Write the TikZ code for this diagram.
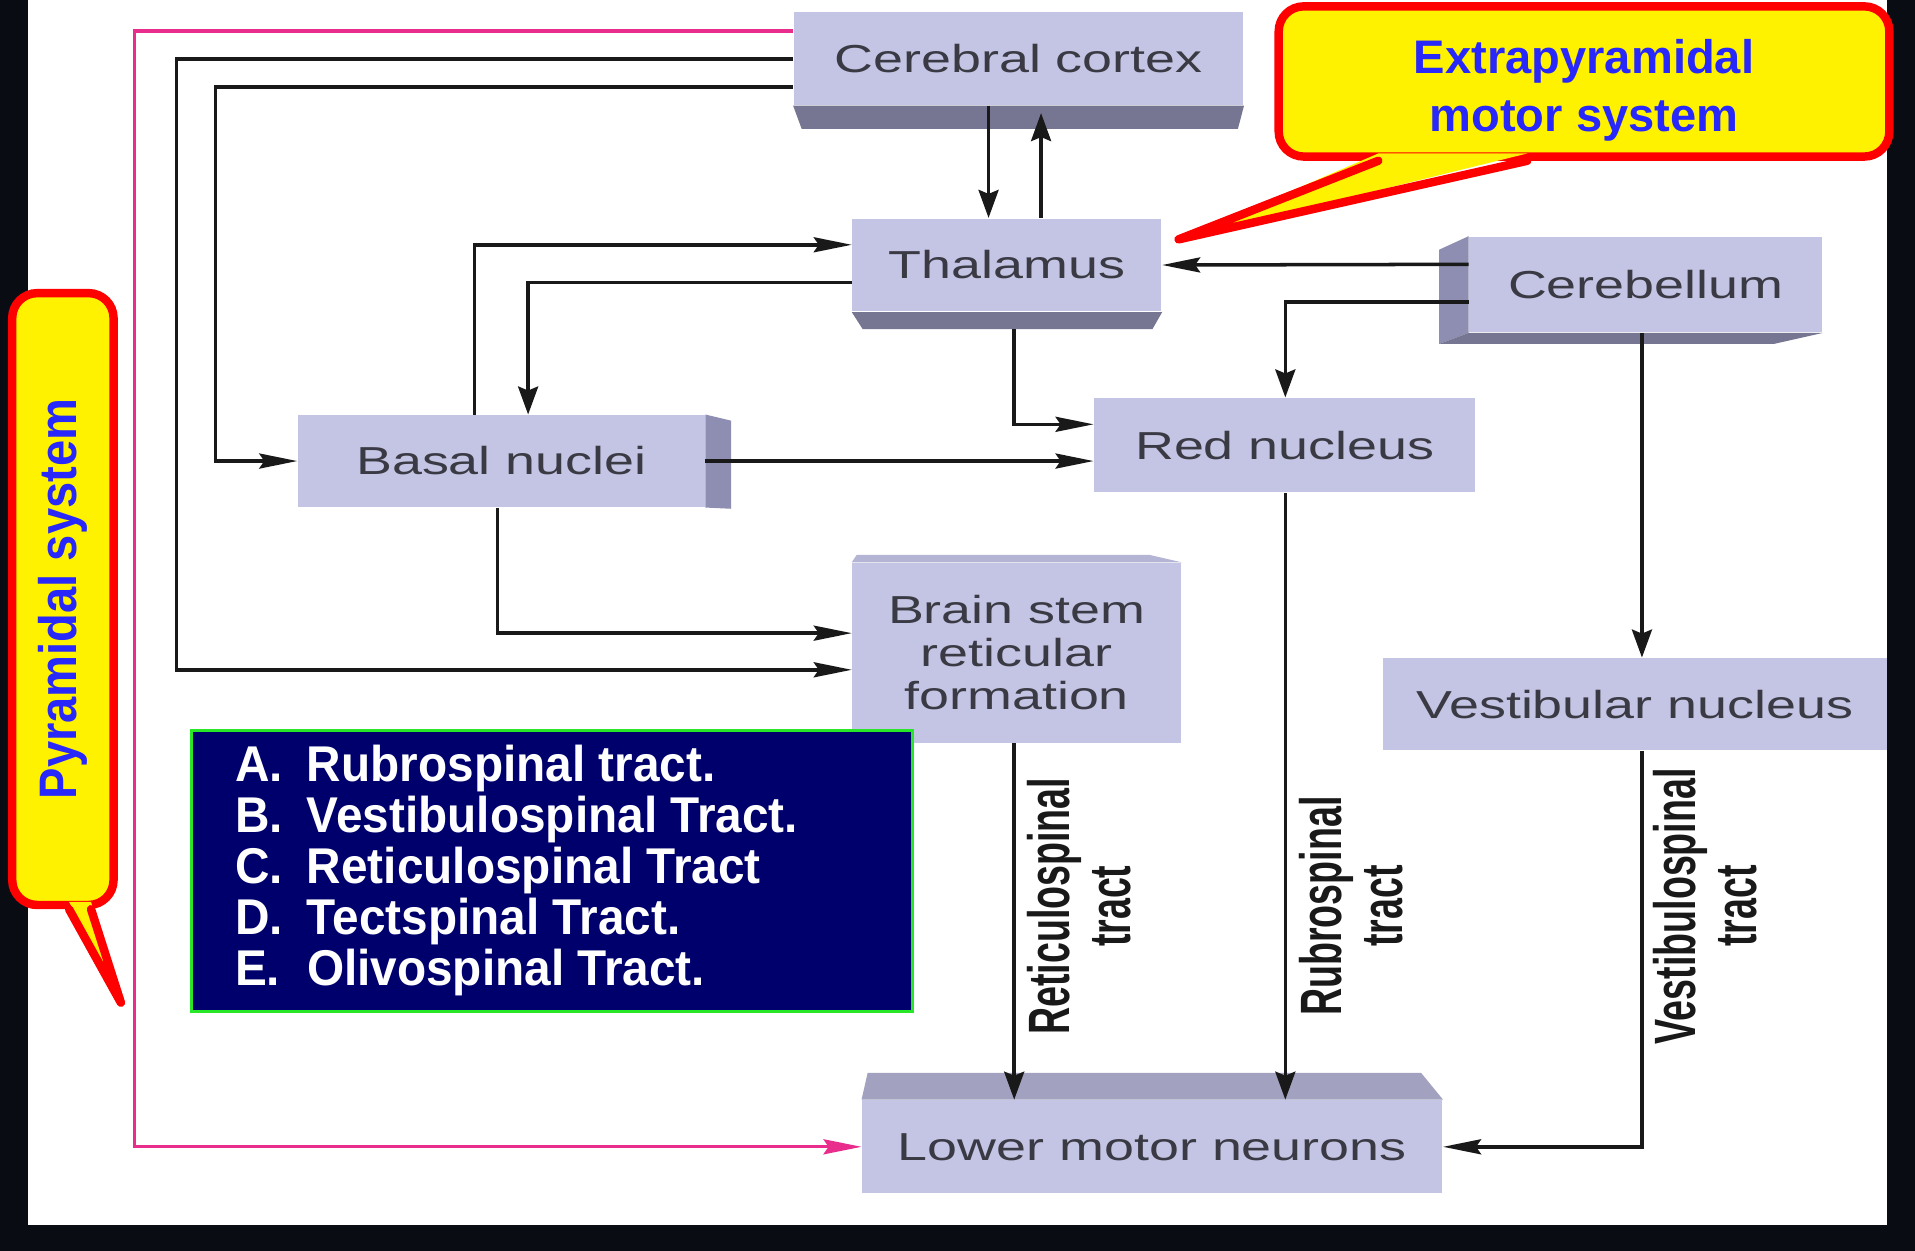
\documentclass[tikz,border=0pt]{standalone}
\usepackage{fontspec}
\setmainfont{Liberation Sans}
\newfontfamily\boxfont[FakeStretch=1.38]{Liberation Sans}
\newfontfamily\quizfont[FakeStretch=0.95]{Liberation Sans}
\usepackage{graphicx}
\usetikzlibrary{positioning,calc,arrows.meta}

\definecolor{frameblack}{RGB}{10,12,20}
\definecolor{faceblue}{RGB}{196,196,228}
\definecolor{sideblue}{RGB}{142,142,178}
\definecolor{bottomblue}{RGB}{118,118,146}
\definecolor{topblue}{RGB}{180,180,212}
\definecolor{lmntop}{RGB}{162,162,192}
\definecolor{boxtext}{RGB}{58,58,68}
\definecolor{pyrpink}{RGB}{232,45,140}
\definecolor{calloutblue}{RGB}{40,40,250}
\definecolor{quiznavy}{RGB}{0,0,108}
\definecolor{quizgreen}{RGB}{40,230,40}

\newcommand{\upx}{0.12213mm}

\begin{document}
\begin{tikzpicture}[x=0.12213mm, y=-0.12213mm,
    face/.style={rectangle, fill=faceblue, inner sep=0pt, text=boxtext, align=center, font=\boxfont\fontsize{11.1}{12.3}\selectfont},
    conn/.style={draw=black!90, line width=1pt},
    harr/.style={conn, -{Stealth[length=3.8mm, width=1.5mm, inset=0.5mm]}},
    varr/.style={conn, -{Stealth[length=2.8mm, width=2mm, inset=0.4mm]}},
    pinkarr/.style={draw=pyrpink, line width=0.9pt, -{Stealth[length=3.8mm, width=1.5mm, inset=0.5mm]}},
    lbl/.style={rotate=90, inner sep=0pt, text=black!90, font=\bfseries\fontsize{10.7}{11.2}\selectfont},
    quiz/.style={rectangle, fill=quiznavy, draw=quizgreen, line width=0.8pt},
    callbox/.style={rectangle, rounded corners=2.5mm, draw=red, line width=2.4pt, fill=yellow},
    calltext/.style={inner sep=0pt, text=calloutblue, align=center, font=\bfseries\fontsize{13.4}{16.5}\selectfont},
    tail/.style={draw=red, line width=2.4pt, line join=round, line cap=round},
    ]
    \useasboundingbox (0,0) rectangle (1568,1024);
    \fill[frameblack] (0,0) rectangle (1568,1024);
    \fill[white] (23,0) rectangle (1545,1003);

    %% boxes
    \node[face, minimum width=368*\upx, minimum height=76*\upx] (cortex) at (834,48) {Cerebral cortex};
    \node[face, minimum width=253*\upx, minimum height=76*\upx] (thal) at (824.5,217) {Thalamus};
    \node[face, minimum width=289*\upx, minimum height=78*\upx] (cereb) at (1347.5,233) {Cerebellum};
    \node[face, minimum width=333*\upx, minimum height=75*\upx] (basal) at (410.5,377.5) {Basal nuclei};
    \node[face, minimum width=312*\upx, minimum height=77*\upx] (red) at (1052,364.5) {Red nucleus};
    \node[face, minimum width=269*\upx, minimum height=147*\upx] (stem) at (832.5,534.5) {Brain stem\\reticular\\formation};
    \node[face, minimum width=413*\upx, minimum height=75*\upx] (vest) at (1338.5,576.5) {Vestibular nucleus};
    \node[face, minimum width=475*\upx, minimum height=76*\upx] (lmn) at (943.5,939) {Lower motor neurons};

    %% 3d sides of the boxes
    \fill[bottomblue] (cortex.south west) -- (cortex.south east) -- ($(cortex.south east)+(-5,19)$) -- ($(cortex.south west)+(7,19)$) -- cycle;
    \fill[bottomblue] (thal.south west) -- (thal.south east) -- ($(thal.south east)+(-8,14)$) -- ($(thal.south west)+(9,14)$) -- cycle;
    \fill[sideblue] (cereb.north west) -- (cereb.south west) -- ($(cereb.south west)+(-24,9)$) -- ($(cereb.north west)+(-24,11)$) -- cycle;
    \fill[bottomblue] (cereb.south west) -- (cereb.south east) -- ($(cereb.south east)+(-40,9)$) -- ($(cereb.south west)+(-24,9)$) -- cycle;
    \fill[sideblue] (basal.north east) -- ($(basal.north east)+(21,5)$) -- ($(basal.south east)+(21,1)$) -- (basal.south east) -- cycle;
    \fill[topblue] (stem.north west) -- (stem.north east) -- ($(stem.north east)+(-26,-6)$) -- ($(stem.north west)+(4,-6)$) -- cycle;
    \fill[lmntop] (lmn.north west) -- (lmn.north east) -- ($(lmn.north east)+(-18,-22)$) -- ($(lmn.north west)+(5,-22)$) -- cycle;

    %% connectors
    % from the cortex
    \draw[harr] ($(cortex.north west)+(0,39)$) -- ++(-505,0) |- ($(stem.north west)+(0,88)$);
    \draw[harr] ($(cortex.north west)+(0,62)$) -- ++(-473,0) |- (basal.west);
    \draw[pinkarr] ($(cortex.north west)+(0,16)$) -- ++(-539,0) |- (lmn.west);
    \draw[varr] (cortex.south west) ++(160,0) -- ($(thal.north west)+(112,0)$);
    \draw[varr] ($(thal.north west)+(155,0)$) -- ($(cortex.south west)+(203,6)$);
    % basal nuclei and thalamus
    \draw[harr] ($(basal.north west)+(145,0)$) |- ($(thal.north west)+(0,22)$);
    \draw[varr] ($(thal.north west)+(0,53)$) -| ($(basal.north west)+(189,0)$);
    % cerebellum
    \draw[harr] ($(cereb.north west)+(0,23)$) -- (thal.east);
    \draw[varr] ($(cereb.north west)+(0,54)$) -| ($(red.north west)+(157,0)$);
    \draw[varr] ($(cereb.south west)+(142,0)$) -- ($(vest.north west)+(213,0)$);
    % into red nucleus and brain stem
    \draw[harr] ($(thal.south west)+(133,14)$) |- ($(red.north west)+(0,22)$);
    \draw[harr] (basal.east) -- (basal.east -| red.west);
    \draw[harr] ($(basal.south west)+(164,0)$) |- ($(stem.north west)+(0,58)$);
    % descending tracts
    \draw[varr] ($(stem.south west)+(133,0)$) -- ($(lmn.north west)+(125,0)$);
    \draw[varr] ($(red.south west)+(157,0)$) -- ($(lmn.north west)+(347,0)$);
    \draw[harr] ($(vest.south west)+(213,0)$) |- (lmn.east);

    %% tract labels
    \node[lbl] (retlbl) at (891,742) {\scalebox{1}[1.55]{\begin{tabular}{@{}c@{}}Reticulospinal\\tract\end{tabular}}};
    \node[lbl] (rublbl) at (1113,742) {\scalebox{1}[1.55]{\begin{tabular}{@{}c@{}}Rubrospinal\\tract\end{tabular}}};
    \node[lbl] (veslbl) at (1403,742) {\scalebox{1}[1.55]{\begin{tabular}{@{}c@{}}Vestibulospinal\\tract\end{tabular}}};

    %% question box
    \node[quiz, minimum width=590*\upx, minimum height=230*\upx] (quizbox) at (452,713) {};
    \node[anchor=north west, inner sep=0pt, text=white, align=left, font=\quizfont\bfseries\fontsize{14.3}{14.5}\selectfont] (answers) at ($(quizbox.north west)+(36,13)$) {%
        \makebox[7.2mm][l]{A.}Rubrospinal tract.\\
        \makebox[7.2mm][l]{B.}Vestibulospinal Tract.\\
        \makebox[7.2mm][l]{C.}Reticulospinal Tract\\
        \makebox[7.2mm][l]{D.}Tectspinal Tract.\\
        \makebox[7.2mm][l]{E.}Olivospinal Tract.};

    %% callouts
    \coordinate (pyrtip) at (99,821);
    \coordinate (extratip) at (965,196);
    \node[callbox, minimum width=83*\upx, minimum height=501*\upx] (pyr) at (51.5,490.5) {};
    \fill[yellow] ($(pyr.south west)+(50,-6)$) -- ($(pyr.south west)+(68,-6)$) -- (pyrtip) -- cycle;
    \draw[tail] ($(pyr.south west)+(50,0)$) -- (pyrtip) -- ($(pyr.south west)+(68,0)$);
    \node[calltext] (pyrtext) at (pyr.center) {\rotatebox{90}{\scalebox{1}[1.12]{Pyramidal system}}};

    \node[callbox, minimum width=500*\upx, minimum height=123*\upx] (extra) at (1297,66.7) {};
    \fill[yellow] ($(extra.south west)+(85,-6)$) -- ($(extra.south west)+(207,-6)$) -- (extratip) -- cycle;
    \draw[tail] ($(extra.south west)+(85,0)$) -- (extratip) -- ($(extra.south west)+(207,0)$);
    \node[calltext] (extratext) at ($(extra.center)+(0,7)$) {Extrapyramidal\\motor system};
\end{tikzpicture}
\end{document}
